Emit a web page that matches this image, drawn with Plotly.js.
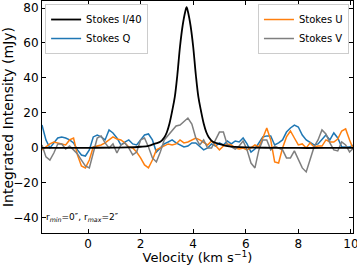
<!DOCTYPE html>
<html><head><meta charset="utf-8">
<script src="https://cdn.plot.ly/plotly-3.0.1.min.js"></script>
<style>html,body{margin:0;padding:0;background:#fff}#c{width:357px;height:265px}</style>
</head><body><div id="c"></div>
<script>
const velocity = [-1.75,-1.6,-1.45,-1.3,-1.15,-1.0,-0.85,-0.7,-0.55,-0.4,-0.25,-0.1,0.05,0.2,0.35,0.5,0.65,0.8,0.95,1.1,1.25,1.4,1.55,1.7,1.85,2.0,2.15,2.3,2.45,2.6,2.75,2.9,3.05,3.2,3.35,3.5,3.65,3.8,3.95,4.1,4.25,4.4,4.55,4.7,4.85,5.0,5.15,5.3,5.45,5.6,5.75,5.9,6.05,6.2,6.35,6.5,6.65,6.8,6.95,7.1,7.25,7.4,7.55,7.7,7.85,8.0,8.15,8.3,8.45,8.6,8.75,8.9,9.05,9.2,9.35,9.5,9.65,9.8,9.95,10.1];
const stokesQ = [13.1,4.6,0,2.9,5.7,6.3,5.7,4.6,2.9,-1.1,-4,-4.6,-1.1,6.3,7.4,6.3,4.6,10.3,8.6,5.7,1.7,3.4,4.6,2.3,1.7,4.6,7.4,8,4.6,-2.3,0,2.3,3.4,4.6,2.9,1.7,0.6,1.1,2.9,2.9,0.6,-1.1,0,2.3,1.1,2.9,1.7,4,2.3,4,3.4,5.7,2.3,-2.3,-0.6,2.9,6.3,6.9,6.9,1.7,2.9,4.6,9.1,11.4,13.1,12,7.4,4.6,2.9,1.7,2.3,4.6,7.4,4.6,8.6,5.7,0.6,0.6,0.6,1.7];
const stokesU = [-1.1,0.6,2.3,3.4,2.9,2.3,1.7,4.6,5.7,-4,-10.3,-11.4,-6.9,0.6,1.1,1.7,2.9,4.6,6.3,5.1,4.6,2.9,0.6,0,-2.3,-5.7,-9.7,-11.4,-6.9,-1.1,0,1.1,2.3,1.7,2.3,4.6,2.9,3.4,4.6,5.7,4.6,2.9,1.7,4,1.1,-1.1,1.1,2.3,1.7,0,-0.6,0,-1.1,0,1.7,0.6,5.7,11.4,4.6,-8,-8.6,0,6.3,9.7,5.7,1.7,2.3,0,2.9,0.6,1.1,1.1,4.6,3.4,3.4,5.1,9.7,10.9,4.6,-1.1];
const stokesV = [1.7,-5.1,-6.9,-2.9,2.3,2.3,-0.6,1.1,-1.1,-3.4,-6.9,-10.3,-11.4,-2.3,5.7,6.9,2.9,0,2.3,-2.9,1.7,2.9,0,-4,-2.3,4.6,5.7,0.6,-5.7,-8,-2.3,4.6,7.4,10.3,12.6,13.1,14.9,17.1,13.7,5.7,1.7,4.6,0,0,4.6,9.1,9.1,1.7,0.6,-0.6,1.1,4,-1.1,-8.6,-11.4,-1.1,4.6,4.6,-1.1,1.1,0,-1.1,-5.7,-5.7,-1.7,-6.9,-11.4,-13.7,-6.9,0.6,4.6,10.3,8,2.9,-1.1,-1.7,3.4,1.7,-2.3,0];
const velocityI = [-1.75,-1.0,0,1.0,1.5,2.0,2.3,2.55,2.75,2.9,3.0,3.1,3.2,3.3,3.4,3.5,3.6,3.7,3.75,3.8,3.9,4.0,4.1,4.2,4.3,4.4,4.5,4.6,4.75,4.95,5.25,5.6,6.0,7.0,8.0,9.0,10.1];
const stokesI40 = [0,0,0.1,0.2,0.3,0.7,1.2,2.5,3.5,6,9,14,21,29,42,58,70,78,80.5,78,70,58,42,29,21,14,9,6,3.5,2.5,1.2,0.6,0.3,0.1,0,0,0];
const names = ["Stokes I/40","Stokes Q","Stokes U","Stokes V"];
const xTicks = [0,2,4,6,8,10];
const yTicks = [-40,-20,0,20,40,60,80];

const F = "DejaVu Sans, sans-serif";
const traces = [
  {x: velocity, y: stokesQ, name: names[1], mode:'lines', line:{color:'#1f77b4', width:1.5}, legend:'legend', legendrank:2},
  {x: velocity, y: stokesU, name: names[2], mode:'lines', line:{color:'#ff7f0e', width:1.5}, legend:'legend2', legendrank:1},
  {x: velocity, y: stokesV, name: names[3], mode:'lines', line:{color:'#7f7f7f', width:1.5}, legend:'legend2', legendrank:2},
  {x: velocityI, y: stokesI40, name: names[0], mode:'lines', line:{color:'#000000', width:1.8, shape:'spline'}, legend:'legend', legendrank:1}
];
const axisCommon = {showline:true, mirror:'ticks', linecolor:'#000', linewidth:1, ticks:'inside', ticklen:4, tickcolor:'#000', showgrid:false, zeroline:false, ticklabeloverflow:'allow', tickfont:{family:F, size:12, color:'#000'}};
const layout = {
  width:357, height:265,
  margin:{l:42, r:4, t:1, b:32},
  paper_bgcolor:'#fff', plot_bgcolor:'#fff',
  font:{family:F, color:'#000'},
  xaxis: Object.assign({}, axisCommon, {range:[-1.75,10.08], tickvals:xTicks, automargin:false, title:{text:'Velocity (km s<sup>−1</sup>)', font:{family:F, size:13}, standoff:8}}),
  yaxis: Object.assign({}, axisCommon, {range:[-48.6,84], tickvals:yTicks, automargin:false, title:{text:'Integrated Intensity (mJy)', font:{family:F, size:14}, standoff:5}}),
  legend:{x:0.01, y:0.987, xanchor:'left', yanchor:'top', bgcolor:'rgba(255,255,255,0.85)', bordercolor:'#cccccc', borderwidth:1, font:{family:F, size:10}, traceorder:'normal'},
  legend2:{x:0.987, y:0.987, xanchor:'right', yanchor:'top', bgcolor:'rgba(255,255,255,0.85)', bordercolor:'#cccccc', borderwidth:1, font:{family:F, size:10}, traceorder:'normal'},
  showlegend:true,
  annotations:[{xref:'paper', yref:'paper', x:0.129, y:0.065, xanchor:'center', yanchor:'middle', showarrow:false, text:'r<sub><i>min</i></sub>=0″, r<sub><i>max</i></sub>=2″', font:{family:F, size:9, color:'#000'}}]
};
Plotly.newPlot('c', traces, layout, {displayModeBar:false, staticPlot:true});
</script></body></html>
